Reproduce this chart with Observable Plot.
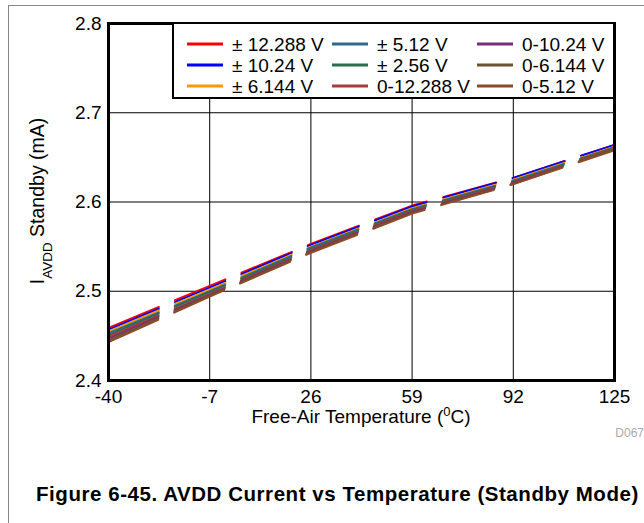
<!DOCTYPE html>
<html>
<head>
<meta charset="utf-8">
<script src="https://cdn.jsdelivr.net/npm/d3@7"></script>
<script src="https://cdn.jsdelivr.net/npm/@observablehq/plot@0.6"></script>
<style>
  body { margin: 0; background: #fff; }
  #wrap { position: relative; width: 644px; height: 523px; overflow: hidden; font-family: "Liberation Sans", Arial, sans-serif; }
  #frame { position: absolute; left: 8px; top: 5px; width: 700px; height: 600px; border-left: 1px solid #888; border-top: 1px solid #888; }
  #chart { position: absolute; left: 0; top: 0; }
  #caption { position: absolute; left: 36px; top: 482px; font-weight: bold; font-size: 20.5px; letter-spacing: 0.55px; white-space: nowrap; color: #000; }
</style>
</head>
<body>
<div id="wrap">
  <div id="frame"></div>
  <div id="chart"></div>
  <div id="caption">Figure 6-45. AVDD Current vs Temperature (Standby Mode)</div>
</div>
<script>
const temps = [-40, -7, 26, 59, 92, 125];
const xTicks = [-40, -7, 26, 59, 92, 125];
const yTicks = [2.4, 2.5, 2.6, 2.7, 2.8];

const seriesNames = ["± 12.288 V", "± 10.24 V", "± 6.144 V", "± 5.12 V", "± 2.56 V", "0-12.288 V", "0-10.24 V", "0-6.144 V", "0-5.12 V"];
const seriesColors = ["#FF0000", "#0000FF", "#FF9900", "#31688A", "#2B6E4C", "#A83B3E", "#7A2D78", "#6E5230", "#8C4A26"];

const pm12288 = [2.459, 2.506, 2.553, 2.596, 2.627, 2.664];
const pm1024  = [2.457, 2.504, 2.552, 2.595, 2.627, 2.664];
const pm6144  = [2.455, 2.502, 2.550, 2.593, 2.625, 2.662];
const pm512   = [2.453, 2.500, 2.549, 2.592, 2.624, 2.661];
const pm256   = [2.451, 2.499, 2.547, 2.591, 2.623, 2.661];
const u12288  = [2.449, 2.497, 2.546, 2.590, 2.622, 2.660];
const u1024   = [2.447, 2.496, 2.545, 2.589, 2.621, 2.659];
const u6144   = [2.445, 2.495, 2.544, 2.588, 2.620, 2.659];
const u512    = [2.443, 2.494, 2.543, 2.587, 2.620, 2.658];

const seriesValues = [pm12288, pm1024, pm6144, pm512, pm256, u12288, u1024, u6144, u512];

const rows = [];
seriesNames.forEach((name, i) => {
  temps.forEach((t, j) => rows.push({series: name, t, v: seriesValues[i][j]}));
});

const font = "'Liberation Sans', Arial, sans-serif";
const plot = Plot.plot({
  width: 644,
  height: 445,
  marginLeft: 108,
  marginRight: 30,
  marginTop: 23,
  marginBottom: 65,
  style: {fontFamily: font, fontSize: "19px", color: "#000", background: "transparent"},
  x: {domain: [-40, 125], ticks: xTicks, tickSize: 0, tickPadding: 9, label: null, tickFormat: d => String(d)},
  y: {domain: [2.4, 2.8], ticks: yTicks, tickSize: 0, tickPadding: 7, label: null, tickFormat: d3.format(".1f")},
  color: {domain: seriesNames, range: seriesColors},
  marks: [
    Plot.gridX(xTicks, {stroke: "#000", strokeOpacity: 1, strokeWidth: 1}),
    Plot.gridY(yTicks, {stroke: "#000", strokeOpacity: 1, strokeWidth: 1}),
    Plot.line(rows, {x: "t", y: "v", z: "series", stroke: "series", strokeWidth: 2, strokeDasharray: "54.5,17.5"}),
    Plot.frame({stroke: "#000", strokeWidth: 3})
  ]
});
document.getElementById("chart").appendChild(plot);

const svg = d3.select(plot);
// legend
const lg = svg.append("g").attr("font-family", font).attr("font-size", 19).attr("text-anchor", "start");
lg.append("rect").attr("x", 173).attr("y", 23).attr("width", 441).attr("height", 75)
  .attr("fill", "#fff").attr("stroke", "#000").attr("stroke-width", 2);
const colX = [187, 332, 477];
const rowY = [44, 65, 86];
seriesNames.forEach((name, i) => {
  const c = Math.floor(i / 3), r = i % 3;
  lg.append("line").attr("x1", colX[c]).attr("x2", colX[c] + 36).attr("y1", rowY[r]).attr("y2", rowY[r])
    .attr("stroke", seriesColors[i]).attr("stroke-width", 3);
  lg.append("text").attr("x", colX[c] + 45).attr("y", rowY[r]).attr("dy", "0.35em")
    .attr("text-anchor", "start").attr("fill", "#000").text(name);
});

// axis labels
const xl = svg.append("text").attr("x", 361).attr("y", 423).attr("text-anchor", "middle")
  .attr("font-family", font).attr("font-size", 19).attr("fill", "#000");
xl.append("tspan").text("Free-Air Temperature (");
xl.append("tspan").attr("baseline-shift", "super").attr("font-size", 13).text("0");
xl.append("tspan").text("C)");

const yl = svg.append("text").attr("transform", "translate(44,201) rotate(-90)").attr("text-anchor", "middle")
  .attr("font-family", font).attr("font-size", 19.5).attr("fill", "#000");
yl.append("tspan").text("I");
yl.append("tspan").attr("baseline-shift", "sub").attr("font-size", 13.5).text("AVDD");
yl.append("tspan").text(" Standby (mA)");

svg.append("text").attr("x", 644).attr("y", 437).attr("text-anchor", "end")
  .attr("font-family", font).attr("font-size", 12).attr("fill", "#aaa").text("D067");
</script>
</body>
</html>
